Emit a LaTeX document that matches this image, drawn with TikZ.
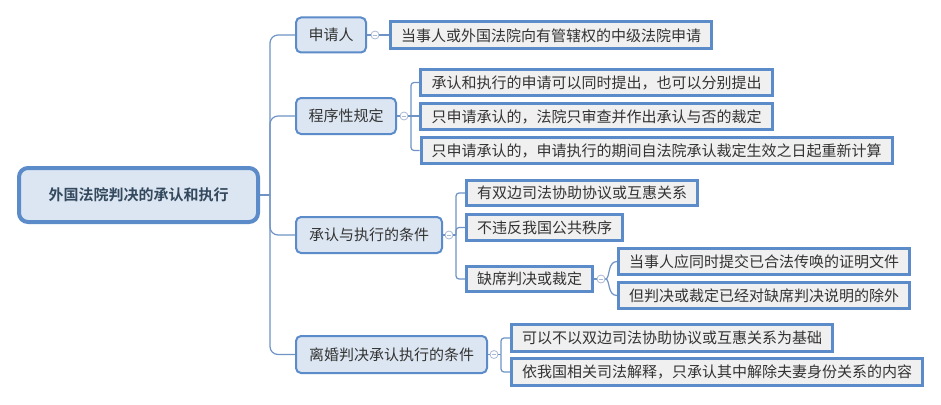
\documentclass[tikz,border=0pt]{standalone}
\usepackage{fontspec}
\newfontfamily\cjk{Noto Sans CJK SC}[BoldFont={Noto Sans CJK SC Bold}]
\usetikzlibrary{calc}
\definecolor{bord}{HTML}{5B8BC8}
\definecolor{lvfill}{HTML}{DCE6F2}
\definecolor{leaffill}{HTML}{F0F0F0}
\definecolor{lnk}{HTML}{6F93C4}
\definecolor{txt}{HTML}{333333}
\definecolor{roottxt}{HTML}{34495E}
\definecolor{circ}{HTML}{A9B9D3}
\tikzset{
  rootbox/.style={draw=bord, line width=4pt, fill=lvfill, rounded corners=9pt,
    minimum width=239pt, minimum height=54pt, inner sep=0pt,
    font=\cjk\fontsize{15}{18}\selectfont\bfseries, text=roottxt},
  lvbox/.style={draw=bord, line width=2pt, fill=lvfill, rounded corners=5pt,
    inner sep=0pt, font=\cjk\fontsize{15}{18}\selectfont, text=txt},
  leafbox/.style={draw=bord, line width=3pt, fill=leaffill,
    inner sep=0pt, font=\cjk\fontsize{15}{18}\selectfont, text=txt},
  link/.style={draw=lnk, line width=1.2pt},
  minus/.style={circle, draw=circ, line width=0.8pt, fill=white, minimum size=8pt, inner sep=0pt,
    path picture={\draw[circ, line width=0.8pt]
      ([xshift=-2.3pt]path picture bounding box.center) -- ([xshift=2.3pt]path picture bounding box.center);}}
}
\begin{document}
\begin{tikzpicture}[x=1pt,y=-1pt]
\useasboundingbox (0,0) rectangle (941,404);
% root
\node[rootbox] (root) at (138.5,195) {外国法院判决的承认和执行};
% level 1
\node[lvbox, minimum width=70pt, minimum height=35pt] (A) at (331,35) {申请人};
\node[lvbox, minimum width=100pt, minimum height=36pt] (B) at (346,116) {程序性规定};
\node[lvbox, minimum width=146pt, minimum height=36pt] (C) at (369,235) {承认与执行的条件};
\node[lvbox, minimum width=191pt, minimum height=37pt] (D) at (391.5,354.5) {离婚判决承认执行的条件};
% leaves
\node[leafbox, minimum width=321pt, minimum height=27pt] (A1) at (551,35.5) {当事人或外国法院向有管辖权的中级法院申请};
\node[leafbox, minimum width=352pt, minimum height=26pt] (B1) at (596.5,82.5) {承认和执行的申请可以同时提出，也可以分别提出};
\node[leafbox, minimum width=352pt, minimum height=26pt] (B2) at (596.5,116.5) {只申请承认的，法院只审查并作出承认与否的裁定};
\node[leafbox, minimum width=471pt, minimum height=26pt] (B3) at (656.5,150.5) {只申请承认的，申请执行的期间自法院承认裁定生效之日起重新计算};
\node[leafbox, minimum width=231pt, minimum height=25pt] (C1) at (582,193) {有双边司法协助协议或互惠关系};
\node[leafbox, minimum width=156pt, minimum height=26pt] (C2) at (544.5,227.5) {不违反我国公共秩序};
\node[leafbox, minimum width=126pt, minimum height=25pt] (C3) at (529.5,279) {缺席判决或裁定};
\node[leafbox, minimum width=291pt, minimum height=26pt] (C31) at (764,261.5) {当事人应同时提交已合法传唤的证明文件};
\node[leafbox, minimum width=291pt, minimum height=26pt] (C32) at (764,295.5) {但判决或裁定已经对缺席判决说明的除外};
\node[leafbox, minimum width=321pt, minimum height=27pt] (D1) at (672,338) {可以不以双边司法协助协议或互惠关系为基础};
\node[leafbox, minimum width=411pt, minimum height=27pt] (D2) at (717,372) {依我国相关司法解释，只承认其中解除夫妻身份关系的内容};
% spine coordinates
\coordinate (rs) at (270,195);
\coordinate (sB) at (411,116);
\coordinate (sC) at (456,235);
\coordinate (sD) at (501,354.5);
% root connectors
\draw[link] (root.east) -- (rs);
\draw[link, rounded corners=8pt] (rs) |- (A.west);
\draw[link, rounded corners=8pt] (rs) |- (B.west);
\draw[link, rounded corners=8pt] (rs) |- (C.west);
\draw[link, rounded corners=8pt] (rs) |- (D.west);
% collapse circles
\node[minus] (cA) at (375,35) {};
\node[minus] (cB) at (404,116) {};
\node[minus] (cC) at (449,235) {};
\node[minus] (cC3) at (601,279) {};
\node[minus] (cD) at (494,354.5) {};
% A
\draw[link] (A.east) -- (cA.west);
\draw[link] (cA.east) -- (A1.west |- cA.east);
% B
\draw[link] (B.east) -- (cB.west);
\draw[link] (cB.east) -- (sB);
\draw[link, rounded corners=3pt] (sB) |- (B1.west);
\draw[link] (sB) -- (B2.west |- sB);
\draw[link, rounded corners=3pt] (sB) |- (B3.west);
% C
\draw[link] (C.east) -- (cC.west);
\draw[link] (cC.east) -- (sC);
\draw[link, rounded corners=3pt] (sC) |- (C1.west);
\draw[link, rounded corners=3pt] (sC) |- (C2.west);
\draw[link, rounded corners=3pt] (sC) |- (C3.west);
% C3
\draw[link] (C3.east) -- (cC3.west);
\draw[link] (cC3.east) .. controls ($(cC3.east)+(5,0)$) and ($(C31.west)+(-10,0)$) .. (C31.west);
\draw[link] (cC3.east) .. controls ($(cC3.east)+(5,0)$) and ($(C32.west)+(-10,0)$) .. (C32.west);
% D
\draw[link] (D.east) -- (cD.west);
\draw[link] (cD.east) -- (sD);
\draw[link, rounded corners=3pt] (sD) |- (D1.west);
\draw[link, rounded corners=3pt] (sD) |- (D2.west);
\end{tikzpicture}
\end{document}
